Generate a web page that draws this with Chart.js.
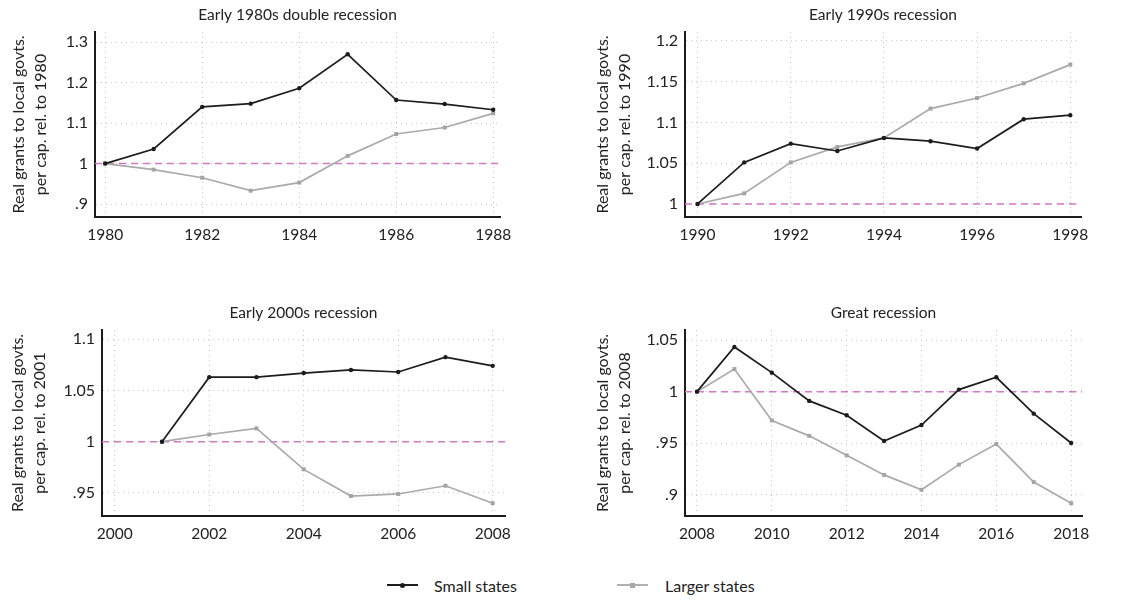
<!DOCTYPE html>
<html>
<head>
<meta charset="utf-8">
<script src="https://cdn.jsdelivr.net/npm/chart.js@4.4.1/dist/chart.umd.min.js"></script>
<style>
  body { margin: 0; background: #fff; width: 1147px; height: 601px; position: relative; overflow: hidden; font-family: Lato, "Open Sans", sans-serif; color: #222; }
  canvas { position: absolute; }
  .legend { position: absolute; top: 576px; font-size: 16px; line-height: 20px; }
  .legend .line { position: absolute; top: 8px; width: 31px; height: 2px; }
  .legend .mark { position: absolute; }
</style>
</head>
<body>
<canvas id="p1" width="570" height="250" style="left:0;top:0"></canvas>
<canvas id="p2" width="577" height="250" style="left:570px;top:0"></canvas>
<canvas id="p3" width="570" height="280" style="left:0;top:270px"></canvas>
<canvas id="p4" width="577" height="280" style="left:570px;top:270px"></canvas>

<div class="legend" style="left:387px">
  <div class="line" style="left:0;background:#1c1c1c"></div>
  <div class="mark" style="left:13px;top:6.5px;width:5px;height:5px;border-radius:50%;background:#1c1c1c"></div>
  <span style="position:absolute;left:47px;white-space:nowrap">Small states</span>
</div>
<div class="legend" style="left:617px">
  <div class="line" style="left:0;background:#b0b0b0"></div>
  <div class="mark" style="left:13px;top:6.5px;width:5px;height:5px;background:#a8a8a8"></div>
  <span style="position:absolute;left:48px;white-space:nowrap">Larger states</span>
</div>

<script>
// series
const years1 = [1980, 1981, 1982, 1983, 1984, 1985, 1986, 1987, 1988];
const small1 = [1.000, 1.036, 1.140, 1.148, 1.186, 1.270, 1.157, 1.147, 1.133];
const large1 = [1.000, 0.985, 0.965, 0.933, 0.953, 1.019, 1.073, 1.089, 1.124];

const years2 = [1990, 1991, 1992, 1993, 1994, 1995, 1996, 1997, 1998];
const small2 = [1.000, 1.051, 1.074, 1.065, 1.081, 1.077, 1.068, 1.104, 1.109];
const large2 = [1.000, 1.013, 1.051, 1.070, 1.081, 1.117, 1.130, 1.148, 1.171];

const years3 = [2001, 2002, 2003, 2004, 2005, 2006, 2007, 2008];
const small3 = [1.000, 1.063, 1.063, 1.067, 1.070, 1.068, 1.0825, 1.074];
const large3 = [1.000, 1.007, 1.013, 0.973, 0.947, 0.949, 0.957, 0.940];

const years4 = [2008, 2009, 2010, 2011, 2012, 2013, 2014, 2015, 2016, 2017, 2018];
const small4 = [1.000, 1.0435, 1.0185, 0.991, 0.977, 0.952, 0.9675, 1.002, 1.014, 0.9786, 0.950];
const large4 = [1.000, 1.022, 0.972, 0.957, 0.938, 0.919, 0.9045, 0.929, 0.949, 0.912, 0.8915];

// ticks
const xTicks1 = [1980, 1982, 1984, 1986, 1988];
const yTicks1 = [0.9, 1, 1.1, 1.2, 1.3];
const yLabels1 = ['.9', '1', '1.1', '1.2', '1.3'];

const xTicks2 = [1990, 1992, 1994, 1996, 1998];
const yTicks2 = [1, 1.05, 1.1, 1.15, 1.2];
const yLabels2 = ['1', '1.05', '1.1', '1.15', '1.2'];

const xTicks3 = [2000, 2002, 2004, 2006, 2008];
const yTicks3 = [0.95, 1, 1.05, 1.1];
const yLabels3 = ['.95', '1', '1.05', '1.1'];

const xTicks4 = [2008, 2010, 2012, 2014, 2016, 2018];
const yTicks4 = [0.9, 0.95, 1, 1.05];
const yLabels4 = ['.9', '.95', '1', '1.05'];

const titles = ['Early 1980s double recession', 'Early 1990s recession', 'Early 2000s recession', 'Great recession'];
const baseYears = ['1980', '1990', '2001', '2008'];

const FONT = 'Lato, "Open Sans", sans-serif';

function makePanel(id, p) {
  const toXY = (xs, ys) => xs.map((x, i) => ({ x: x, y: ys[i] }));
  new Chart(document.getElementById(id), {
    type: 'line',
    data: {
      datasets: [
        {
          data: toXY(p.years, p.small),
          borderColor: '#1c1c1c',
          backgroundColor: '#1c1c1c',
          borderWidth: 1.7,
          pointStyle: 'circle',
          pointRadius: 2.2,
          pointBorderWidth: 0,
          order: 1,
        },
        {
          data: toXY(p.years, p.large),
          borderColor: '#aaaaaa',
          backgroundColor: '#a4a4a4',
          borderWidth: 1.7,
          pointStyle: 'rect',
          pointRadius: 2.8,
          pointBorderWidth: 0,
          order: 2,
        },
        {
          // reference line at 1
          data: [{ x: p.xMin, y: 1 }, { x: p.xMax, y: 1 }],
          borderColor: '#d27ac4',
          borderWidth: 1.5,
          borderDash: [7, 5],
          pointRadius: 0,
          order: 3,
        },
      ],
    },
    options: {
      responsive: false,
      animation: false,
      devicePixelRatio: 1,
      layout: { padding: { left: 0, right: p.padRight, top: 0, bottom: 0 } },
      scales: {
        x: {
          type: 'linear',
          min: p.xMin,
          max: p.xMax,
          afterBuildTicks: s => { s.ticks = p.xTicks.map(v => ({ value: v })); },
          afterFit: s => { s.height = p.xHeight; },
          ticks: {
            callback: v => String(v),
            font: { family: FONT, size: 15.5 },
            color: '#222',
            padding: 9,
            maxRotation: 0,
          },
          grid: { color: '#c8c8c8', lineWidth: 1, drawTicks: false },
          border: { display: true, color: '#1c1c1c', width: 2, dash: [1, 4] },
        },
        y: {
          min: p.yMin,
          max: p.yMax,
          afterBuildTicks: s => { s.ticks = p.yTicks.map(v => ({ value: v })); },
          afterFit: s => { s.width = p.yWidth; },
          ticks: {
            callback: (v, i) => p.yLabels[i],
            font: { family: FONT, size: 16 },
            color: '#222',
            padding: 7,
          },
          grid: { color: '#c8c8c8', lineWidth: 1, drawTicks: false },
          border: { display: true, color: '#1c1c1c', width: 2, dash: [1, 4] },
          title: {
            display: true,
            text: ['Real grants to local govts.', 'per cap. rel. to ' + p.base],
            font: { family: FONT, size: 16, lineHeight: 1.35 },
            color: '#222',
            padding: { top: p.yTitlePad, bottom: 0 },
          },
        },
      },
      plugins: {
        legend: { display: false },
        tooltip: { enabled: false },
        title: {
          display: true,
          text: p.title,
          fullSize: false,
          font: { family: FONT, size: 15.5, weight: 'normal' },
          color: '#222',
          padding: { top: p.titleTop, bottom: p.titleBottom },
        },
      },
    },
  });
}

makePanel('p1', {
  years: years1, small: small1, large: large1,
  xTicks: xTicks1, yTicks: yTicks1, yLabels: yLabels1,
  title: titles[0], base: baseYears[0],
  xMin: 1979.79, xMax: 1988.14, yMin: 0.868, yMax: 1.325,
  yWidth: 95, xHeight: 33, padRight: 70, titleTop: 5.7, titleBottom: 7.7, yTitlePad: 8.2,
});
makePanel('p2', {
  years: years2, small: small2, large: large2,
  xTicks: xTicks2, yTicks: yTicks2, yLabels: yLabels2,
  title: titles[1], base: baseYears[1],
  xMin: 1989.73, xMax: 1998.23, yMin: 0.984, yMax: 1.211,
  yWidth: 115, xHeight: 33, padRight: 66, titleTop: 5.7, titleBottom: 7.7, yTitlePad: 22,
});
makePanel('p3', {
  years: years3, small: small3, large: large3,
  xTicks: xTicks3, yTicks: yTicks3, yLabels: yLabels3,
  title: titles[2], base: baseYears[2],
  xMin: 1999.73, xMax: 2008.26, yMin: 0.9275, yMax: 1.109,
  yWidth: 102, xHeight: 34, padRight: 65, titleTop: 33.7, titleBottom: 7.7, yTitlePad: 7.2,
});
makePanel('p4', {
  years: years4, small: small4, large: large4,
  xTicks: xTicks4, yTicks: yTicks4, yLabels: yLabels4,
  title: titles[3], base: baseYears[3],
  xMin: 2007.68, xMax: 2018.29, yMin: 0.879, yMax: 1.06,
  yWidth: 115, xHeight: 34, padRight: 65, titleTop: 33.7, titleBottom: 7.7, yTitlePad: 22,
});
</script>
</body>
</html>
